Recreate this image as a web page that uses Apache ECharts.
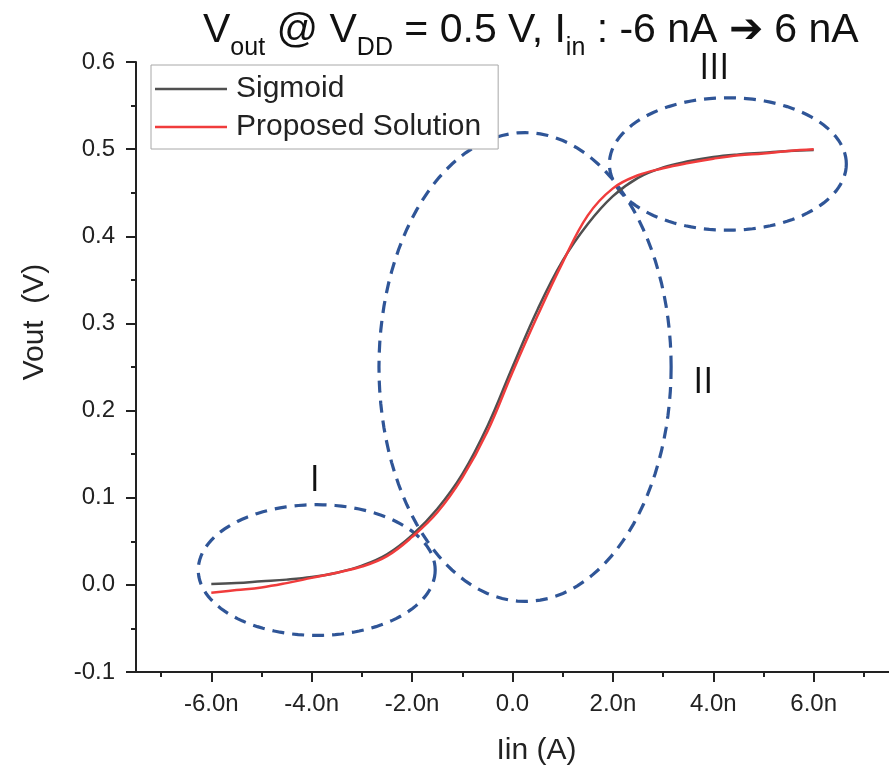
<!DOCTYPE html>
<html>
<head>
<meta charset="utf-8">
<script src="https://cdn.jsdelivr.net/npm/echarts@6/dist/echarts.min.js"></script>
<style>
  html, body { margin: 0; padding: 0; background: #fff; }
  #chart { width: 889px; height: 774px; }
</style>
</head>
<body>
<div id="chart"></div>
<script>
// input current, nA
const iin = [-6, -5.5, -5, -4.5, -4, -3.5, -3, -2.5, -2, -1.5, -1, -0.5, 0, 0.5, 1, 1.5, 2, 2.5, 3, 3.5, 4, 4.5, 5, 5.5, 6]
// Vout, V
const sigmoid = [0.001, 0.002, 0.004, 0.006, 0.009, 0.014, 0.022, 0.035, 0.057, 0.087, 0.127, 0.182, 0.250, 0.316, 0.372, 0.414, 0.446, 0.467, 0.479, 0.486, 0.491, 0.494, 0.496, 0.498, 0.499]
const proposed = [-0.009, -0.006, -0.003, 0.002, 0.008, 0.014, 0.021, 0.033, 0.055, 0.083, 0.123, 0.176, 0.244, 0.309, 0.370, 0.424, 0.455, 0.470, 0.478, 0.484, 0.489, 0.493, 0.495, 0.498, 0.500]

const xMajorTicks = [-6, -4, -2, 0, 2, 4, 6]
const xMinorTicks = [-7, -5, -3, -1, 1, 3, 5, 7]

// dashed regions: centre and half axes in data units, plus where the roman label sits
const regionNames = ['I', 'II', 'III']
const regionCenter = [[-3.90, 0.017], [0.25, 0.250], [4.29, 0.483]]
const regionRadius = [[2.36, 0.075], [2.91, 0.269], [2.36, 0.076]]
const regionLabelAt = [[-3.94, 0.120], [3.80, 0.232], [4.02, 0.592]]

const chart = echarts.init(document.getElementById('chart'))

const axisColor = '#222'
const sans = 'Liberation Sans, Arial, sans-serif'

let option = {
  animation: false,
  title: {
    text: 'V{s|out} @ V{s|DD} = 0.5 V, I{s|in} : -6 nA ➔ 6 nA',
    left: 198,
    top: -4,
    textStyle: {
      fontFamily: sans,
      fontSize: 41,
      fontWeight: 'normal',
      color: '#111',
      lineHeight: 48,
      verticalAlign: 'middle',
      rich: {
        s: {
          fontFamily: sans,
          fontSize: 25,
          color: '#111',
          lineHeight: 60,
          verticalAlign: 'bottom'
        }
      }
    }
  },
  legend: {
    orient: 'vertical',
    left: 151,
    top: 65,
    data: ['Sigmoid', 'Proposed Solution'],
    icon: 'rect',
    padding: [9, 17, 7, 4],
    itemGap: 8,
    itemWidth: 72,
    itemHeight: 2.5,
    borderColor: '#a8a8a8',
    borderWidth: 1,
    backgroundColor: '#fff',
    textStyle: { fontFamily: sans, fontSize: 30, color: '#222', padding: [0, 0, 0, 4] }
  },
  grid: { left: 136, right: -4, top: 62, bottom: 102 },
  xAxis: [{
    type: 'value',
    min: -7.5,
    max: 7.5,
    position: 'bottom',
    name: 'Iin (A)',
    nameLocation: 'middle',
    nameGap: 64,
    nameTextStyle: { fontFamily: sans, fontSize: 30, color: '#222', padding: [0, 0, 0, 48] },
    splitLine: { show: false },
    axisLine: { onZero: false, lineStyle: { color: axisColor, width: 2 } },
    axisTick: { customValues: xMajorTicks, length: 10, lineStyle: { color: axisColor, width: 2 } },
    axisLabel: {
      customValues: xMajorTicks,
      margin: 20,
      fontFamily: sans,
      fontSize: 24,
      color: '#222',
      formatter: v => v === 0 ? '0.0' : v.toFixed(1) + 'n'
    }
  }, {
    type: 'value',
    min: -7.5,
    max: 7.5,
    position: 'bottom',
    splitLine: { show: false },
    axisLine: { show: false, onZero: false },
    axisTick: { customValues: xMinorTicks, length: 5, lineStyle: { color: axisColor, width: 2 } },
    axisLabel: { show: false }
  }],
  yAxis: {
    type: 'value',
    min: -0.1,
    max: 0.6,
    interval: 0.1,
    name: 'Vout  (V)',
    nameLocation: 'middle',
    nameGap: 86,
    nameTextStyle: { fontFamily: sans, fontSize: 30, color: '#222', padding: [0, 0, 0, 90] },
    splitLine: { show: false },
    axisLine: { onZero: false, lineStyle: { color: axisColor, width: 2 } },
    axisTick: { length: 10, lineStyle: { color: axisColor, width: 2 } },
    minorTick: { show: true, splitNumber: 2, length: 5, lineStyle: { color: axisColor, width: 2 } },
    axisLabel: {
      margin: 21,
      fontFamily: sans,
      fontSize: 24,
      color: '#222',
      formatter: v => v.toFixed(1)
    }
  },
  series: [
    {
      name: 'regions',
      type: 'custom',
      z: 1,
      silent: true,
      clip: false,
      data: regionCenter.map((c, i) => [c[0], c[1], regionRadius[i][0], regionRadius[i][1], regionLabelAt[i][0], regionLabelAt[i][1]]),
      renderItem(params, api) {
        const c = api.coord([api.value(0), api.value(1)])
        const s = api.size([api.value(2), api.value(3)])
        const pts = []
        for (let k = 0; k < 120; k++) {
          const t = k / 120 * Math.PI * 2
          pts.push([c[0] + s[0] * Math.cos(t), c[1] + s[1] * Math.sin(t)])
        }
        const lp = api.coord([api.value(4), api.value(5)])
        return {
          type: 'group',
          children: [
            {
              type: 'polygon',
              shape: { points: pts },
              style: { fill: 'none', stroke: '#2f5597', lineWidth: 3.2, lineDash: [12, 8] }
            },
            {
              type: 'text',
              x: lp[0],
              y: lp[1],
              style: {
                text: regionNames[params.dataIndex],
                fontFamily: 'Open Sans, sans-serif',
                fontSize: 36,
                fill: '#111',
                align: 'center',
                verticalAlign: 'middle'
              }
            }
          ]
        }
      }
    },
    {
      name: 'Sigmoid',
      type: 'line',
      z: 3,
      symbol: 'none',
      smooth: 0.4,
      color: '#505050',
      lineStyle: { width: 2.5, color: '#505050' },
      data: iin.map((x, i) => [x, sigmoid[i]])
    },
    {
      name: 'Proposed Solution',
      type: 'line',
      z: 4,
      symbol: 'none',
      smooth: 0.4,
      color: '#f03c3c',
      lineStyle: { width: 2.5, color: '#f03c3c' },
      data: iin.map((x, i) => [x, proposed[i]])
    }
  ]
}

chart.setOption(option)
</script>
</body>
</html>
